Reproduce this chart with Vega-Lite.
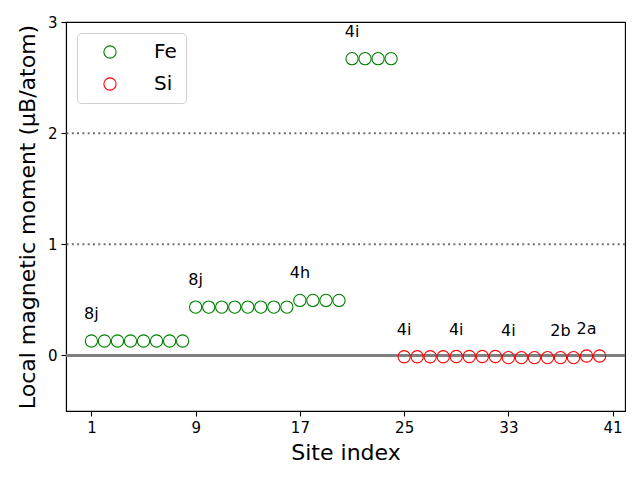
{
  "$schema": "https://vega.github.io/schema/vega-lite/v6.json",
  "autosize": "none",
  "width": 559,
  "height": 389,
  "padding": {"left": 66, "top": 22, "right": 15, "bottom": 69},
  "background": "white",
  "config": {
    "font": "DejaVu Sans",
    "view": {"stroke": "black", "strokeWidth": 1.1},
    "axis": {
      "grid": false,
      "domainColor": "black",
      "domainWidth": 1.1,
      "tickColor": "black",
      "tickWidth": 1.1,
      "tickSize": 5,
      "labelColor": "black",
      "labelFontSize": 15,
      "labelPadding": 4,
      "titleColor": "black",
      "titleFontSize": 22,
      "titleFontWeight": "normal"
    }
  },
  "data": {
    "values": [
      {"site": 1, "element": "Fe", "moment": 0.13, "wyckoff": "8j"},
      {"site": 2, "element": "Fe", "moment": 0.13},
      {"site": 3, "element": "Fe", "moment": 0.13},
      {"site": 4, "element": "Fe", "moment": 0.13},
      {"site": 5, "element": "Fe", "moment": 0.13},
      {"site": 6, "element": "Fe", "moment": 0.13},
      {"site": 7, "element": "Fe", "moment": 0.13},
      {"site": 8, "element": "Fe", "moment": 0.13},
      {"site": 9, "element": "Fe", "moment": 0.435, "wyckoff": "8j"},
      {"site": 10, "element": "Fe", "moment": 0.435},
      {"site": 11, "element": "Fe", "moment": 0.435},
      {"site": 12, "element": "Fe", "moment": 0.435},
      {"site": 13, "element": "Fe", "moment": 0.435},
      {"site": 14, "element": "Fe", "moment": 0.435},
      {"site": 15, "element": "Fe", "moment": 0.435},
      {"site": 16, "element": "Fe", "moment": 0.435},
      {"site": 17, "element": "Fe", "moment": 0.495, "wyckoff": "4h"},
      {"site": 18, "element": "Fe", "moment": 0.495},
      {"site": 19, "element": "Fe", "moment": 0.495},
      {"site": 20, "element": "Fe", "moment": 0.495},
      {"site": 21, "element": "Fe", "moment": 2.67, "wyckoff": "4i"},
      {"site": 22, "element": "Fe", "moment": 2.67},
      {"site": 23, "element": "Fe", "moment": 2.67},
      {"site": 24, "element": "Fe", "moment": 2.67},
      {"site": 25, "element": "Si", "moment": -0.012, "wyckoff": "4i"},
      {"site": 26, "element": "Si", "moment": -0.012},
      {"site": 27, "element": "Si", "moment": -0.012},
      {"site": 28, "element": "Si", "moment": -0.012},
      {"site": 29, "element": "Si", "moment": -0.01, "wyckoff": "4i"},
      {"site": 30, "element": "Si", "moment": -0.01},
      {"site": 31, "element": "Si", "moment": -0.01},
      {"site": 32, "element": "Si", "moment": -0.01},
      {"site": 33, "element": "Si", "moment": -0.02, "wyckoff": "4i"},
      {"site": 34, "element": "Si", "moment": -0.02},
      {"site": 35, "element": "Si", "moment": -0.02},
      {"site": 36, "element": "Si", "moment": -0.02},
      {"site": 37, "element": "Si", "moment": -0.02, "wyckoff": "2b"},
      {"site": 38, "element": "Si", "moment": -0.02},
      {"site": 39, "element": "Si", "moment": -0.005, "wyckoff": "2a"},
      {"site": 40, "element": "Si", "moment": -0.005}
    ]
  },
  "layer": [
    {
      "mark": {"type": "rule", "color": "#808080", "strokeWidth": 1.5},
      "encoding": {"y": {"datum": 0, "type": "quantitative", "scale": {"domain": [-0.5, 3]}}}
    },
    {
      "data": {"values": [{"level": 1}, {"level": 2}]},
      "mark": {"type": "rule", "color": "#707070", "strokeWidth": 2, "strokeDash": [2, 3.3]},
      "encoding": {"y": {"field": "level", "type": "quantitative"}}
    },
    {
      "mark": {"type": "point", "shape": "circle", "filled": false, "size": 150, "strokeWidth": 1.1, "opacity": 1},
      "encoding": {
        "x": {
          "field": "site", "type": "quantitative",
          "scale": {"domain": [-0.95, 41.95], "nice": false, "zero": false},
          "axis": {"values": [1, 9, 17, 25, 33, 41], "format": "d", "title": "Site index", "titlePadding": 7}
        },
        "y": {
          "field": "moment", "type": "quantitative",
          "scale": {"domain": [-0.5, 3], "nice": false, "zero": false},
          "axis": {"values": [0, 1, 2, 3], "format": "d", "title": "Local magnetic moment (μB/atom)", "titlePadding": 8}
        },
        "color": {
          "field": "element", "type": "nominal",
          "scale": {"domain": ["Fe", "Si"], "range": ["green", "red"]},
          "legend": {
            "title": null,
            "orient": "none",
            "legendX": 11,
            "legendY": 11,
            "padding": 9,
            "symbolOffset": 14,
            "labelOffset": 34,
            "labelFontSize": 20,
            "labelColor": "black",
            "symbolSize": 150,
            "symbolStrokeWidth": 1.1,
            "symbolType": "circle",
            "rowPadding": 12,
            "strokeColor": "#d0d0d0",
            "fillColor": "white",
            "cornerRadius": 4
          }
        }
      }
    },
    {
      "transform": [{"filter": "datum.wyckoff != null"}],
      "mark": {"type": "text", "fontSize": 16, "color": "black", "baseline": "alphabetic", "align": "center", "dy": -22},
      "encoding": {
        "x": {"field": "site", "type": "quantitative"},
        "y": {"field": "moment", "type": "quantitative"},
        "text": {"field": "wyckoff"}
      }
    }
  ]
}
